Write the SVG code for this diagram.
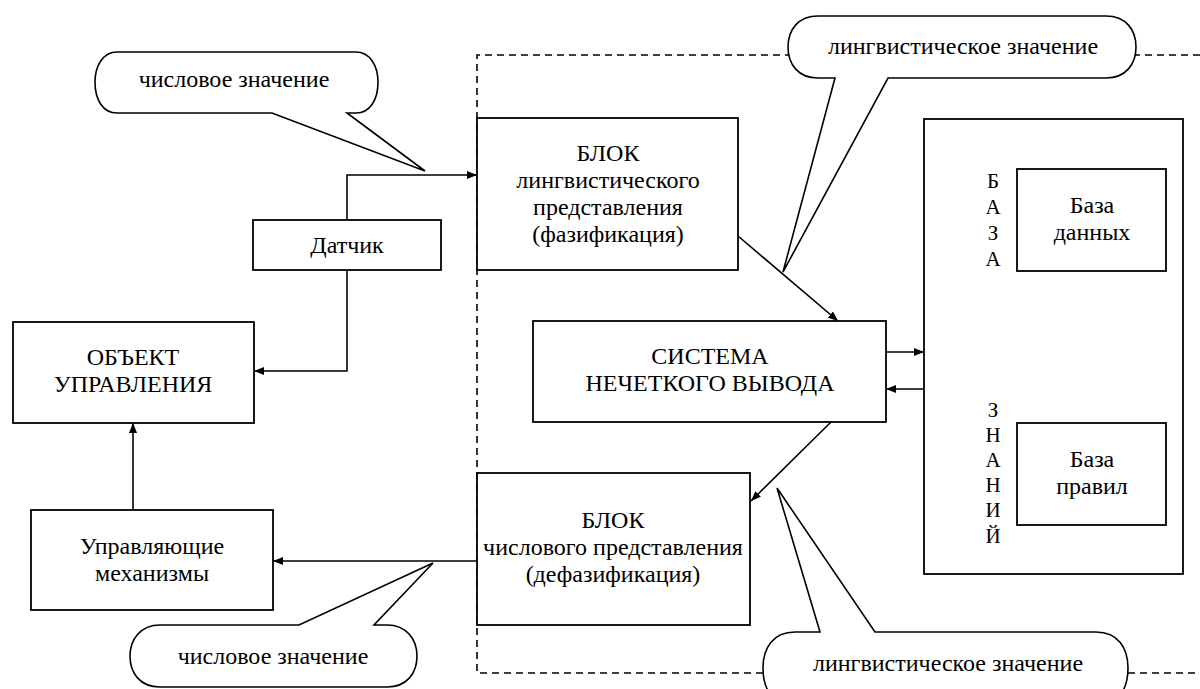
<svg xmlns="http://www.w3.org/2000/svg" width="1200" height="689" viewBox="0 0 1200 689">
<defs>
<marker id="ah" markerUnits="userSpaceOnUse" markerWidth="10" markerHeight="8" refX="10" refY="4" orient="auto">
<path d="M0,0 L10,4 L0,8 Z" fill="#000"/>
</marker>
</defs>
<rect width="1200" height="689" fill="#fff"/>

<path id="boundary" d="M1200,55 H477 V673 H1200" fill="none" stroke="#000" stroke-width="1.6" stroke-dasharray="7 5"/>

<g id="fuzzify">
<rect x="477" y="118" width="261" height="152" fill="#fff" stroke="#000" stroke-width="1.8"/>
<text font-family="Times New Roman, Liberation Serif, serif" font-size="24" text-anchor="middle" x="608" y="161">БЛОК</text>
<text font-family="Times New Roman, Liberation Serif, serif" font-size="24" text-anchor="middle" x="608" y="188">лингвистического</text>
<text font-family="Times New Roman, Liberation Serif, serif" font-size="24" text-anchor="middle" x="608" y="215">представления</text>
<text font-family="Times New Roman, Liberation Serif, serif" font-size="24" text-anchor="middle" x="608" y="242">(фазификация)</text>
</g>

<g id="inference">
<rect x="533" y="321" width="353" height="101" fill="#fff" stroke="#000" stroke-width="1.8"/>
<text font-family="Times New Roman, Liberation Serif, serif" font-size="24" text-anchor="middle" x="710" y="364">СИСТЕМА</text>
<text font-family="Times New Roman, Liberation Serif, serif" font-size="24" text-anchor="middle" x="710" y="391">НЕЧЕТКОГО ВЫВОДА</text>
</g>

<g id="defuzzify">
<rect x="477" y="473" width="273" height="152" fill="#fff" stroke="#000" stroke-width="1.8"/>
<text font-family="Times New Roman, Liberation Serif, serif" font-size="24" text-anchor="middle" x="613" y="528">БЛОК</text>
<text font-family="Times New Roman, Liberation Serif, serif" font-size="24" text-anchor="middle" x="613" y="555">числового представления</text>
<text font-family="Times New Roman, Liberation Serif, serif" font-size="24" text-anchor="middle" x="613" y="582">(дефазификация)</text>
</g>

<g id="knowledge-base">
<rect x="924" y="119" width="259" height="455" fill="#fff" stroke="#000" stroke-width="1.8"/>
<text font-family="Times New Roman, Liberation Serif, serif" font-size="21" text-anchor="middle" x="993" y="188">Б</text>
<text font-family="Times New Roman, Liberation Serif, serif" font-size="21" text-anchor="middle" x="993" y="214">А</text>
<text font-family="Times New Roman, Liberation Serif, serif" font-size="21" text-anchor="middle" x="993" y="240">З</text>
<text font-family="Times New Roman, Liberation Serif, serif" font-size="21" text-anchor="middle" x="993" y="266">А</text>
<text font-family="Times New Roman, Liberation Serif, serif" font-size="21" text-anchor="middle" x="993" y="417">З</text>
<text font-family="Times New Roman, Liberation Serif, serif" font-size="21" text-anchor="middle" x="993" y="442">Н</text>
<text font-family="Times New Roman, Liberation Serif, serif" font-size="21" text-anchor="middle" x="993" y="467">А</text>
<text font-family="Times New Roman, Liberation Serif, serif" font-size="21" text-anchor="middle" x="993" y="492">Н</text>
<text font-family="Times New Roman, Liberation Serif, serif" font-size="21" text-anchor="middle" x="993" y="517">И</text>
<text font-family="Times New Roman, Liberation Serif, serif" font-size="21" text-anchor="middle" x="993" y="543">Й</text>
</g>

<g id="database">
<rect x="1017" y="169" width="149" height="102" fill="#fff" stroke="#000" stroke-width="1.8"/>
<text font-family="Times New Roman, Liberation Serif, serif" font-size="24" text-anchor="middle" x="1092" y="213">База</text>
<text font-family="Times New Roman, Liberation Serif, serif" font-size="24" text-anchor="middle" x="1092" y="240">данных</text>
</g>

<g id="rulebase">
<rect x="1017" y="423" width="149" height="102" fill="#fff" stroke="#000" stroke-width="1.8"/>
<text font-family="Times New Roman, Liberation Serif, serif" font-size="24" text-anchor="middle" x="1092" y="467">База</text>
<text font-family="Times New Roman, Liberation Serif, serif" font-size="24" text-anchor="middle" x="1092" y="494">правил</text>
</g>

<g id="sensor">
<rect x="253" y="220" width="188" height="50" fill="#fff" stroke="#000" stroke-width="1.8"/>
<text font-family="Times New Roman, Liberation Serif, serif" font-size="24" text-anchor="middle" x="347" y="253">Датчик</text>
</g>

<g id="object">
<rect x="13" y="322" width="241" height="101" fill="#fff" stroke="#000" stroke-width="1.8"/>
<text font-family="Times New Roman, Liberation Serif, serif" font-size="24" text-anchor="middle" x="133" y="365">ОБЪЕКТ</text>
<text font-family="Times New Roman, Liberation Serif, serif" font-size="24" text-anchor="middle" x="133" y="392">УПРАВЛЕНИЯ</text>
</g>

<g id="actuators">
<rect x="31" y="510" width="242" height="100" fill="#fff" stroke="#000" stroke-width="1.8"/>
<text font-family="Times New Roman, Liberation Serif, serif" font-size="24" text-anchor="middle" x="152" y="554">Управляющие</text>
<text font-family="Times New Roman, Liberation Serif, serif" font-size="24" text-anchor="middle" x="152" y="581">механизмы</text>
</g>

<g id="connectors" fill="none" stroke="#000" stroke-width="1.6" marker-end="url(#ah)">
<path d="M347,220 V175 H477"/>
<path d="M347,270 V371 H254"/>
<path d="M133,510 V423"/>
<path d="M477,561 H273"/>
<path d="M738,236 L838,321"/>
<path d="M831,422 L751,501"/>
<path d="M886,352 H924"/>
<path d="M924,389 H886"/>
</g>

<g id="callouts">
<g id="callout-numeric-top">
<path fill="#fff" stroke="#000" stroke-width="1.6" d="M117,52 H356 C370,52 378,66 378,82 C378,100 370,113 356,113 H347 L425,171 L272,113 H117 C103,113 95,100 95,82 C95,66 103,52 117,52 Z"/>
<text font-family="Times New Roman, Liberation Serif, serif" font-size="24" text-anchor="middle" x="234" y="87">числовое значение</text>
</g>
<g id="callout-linguistic-top">
<path fill="#fff" stroke="#000" stroke-width="1.6" d="M818,16 H1106 C1126,16 1136,30 1136,47 C1136,64 1126,78 1106,78 H888 L783,272 L835,78 H818 C798,78 788,64 788,47 C788,30 798,16 818,16 Z"/>
<text font-family="Times New Roman, Liberation Serif, serif" font-size="24" text-anchor="middle" x="963" y="54">лингвистическое значение</text>
</g>
<g id="callout-numeric-bottom">
<path fill="#fff" stroke="#000" stroke-width="1.6" d="M160,625 H299 L433,563 L374,625 H387 C407,625 417,640 417,656 C417,673 407,687 387,687 H160 C140,687 130,673 130,656 C130,640 140,625 160,625 Z"/>
<text font-family="Times New Roman, Liberation Serif, serif" font-size="24" text-anchor="middle" x="273" y="664">числовое значение</text>
</g>
<g id="callout-linguistic-bottom">
<path fill="#fff" stroke="#000" stroke-width="1.6" d="M795,632 H820 L777,488 L875,632 H1096 C1118,632 1128,648 1128,668 C1128,690 1118,705 1096,705 H795 C773,705 763,690 763,668 C763,648 773,632 795,632 Z"/>
<text font-family="Times New Roman, Liberation Serif, serif" font-size="24" text-anchor="middle" x="948" y="671">лингвистическое значение</text>
</g>
</g>
</svg>
